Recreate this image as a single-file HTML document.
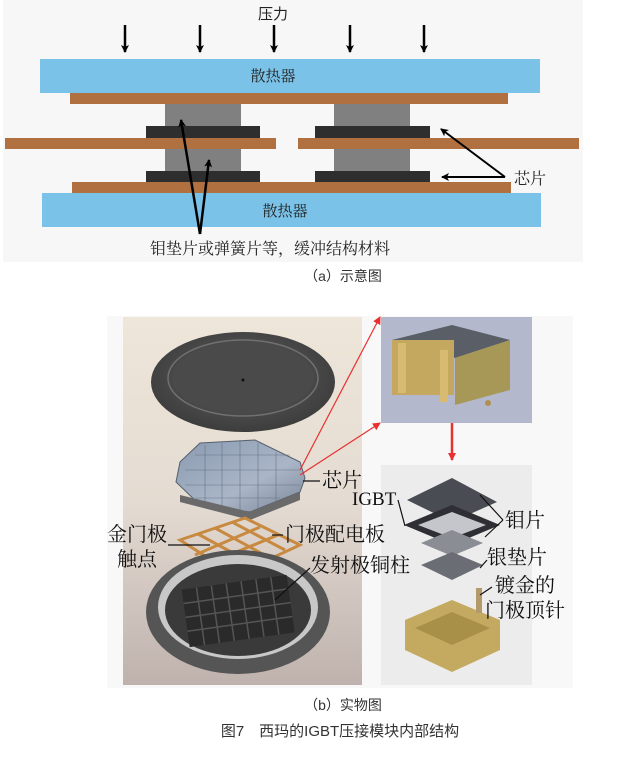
<!DOCTYPE html>
<html><head><meta charset="utf-8"><style>
html,body{margin:0;padding:0;background:#fff;}
svg{display:block;}
.cn{font-family:"Liberation Sans","Noto Sans CJK SC",sans-serif;}
.sf{font-family:"Liberation Serif","Noto Serif CJK SC",serif;}
</style></head><body>
<svg width="633" height="767" viewBox="0 0 633 767" xmlns="http://www.w3.org/2000/svg">
<defs>
<marker id="ah" markerWidth="8" markerHeight="8" refX="7" refY="4" orient="auto" markerUnits="userSpaceOnUse"><path d="M0,0 L8,4 L0,8 L2,4 z" fill="#000"/></marker>
<marker id="ar" markerWidth="8" markerHeight="8" refX="7" refY="4" orient="auto" markerUnits="userSpaceOnUse"><path d="M0,0 L8,4 L0,8 z" fill="#e83030"/></marker>
<linearGradient id="bg" x1="0" y1="0" x2="0" y2="1"><stop offset="0" stop-color="#efe6da"/><stop offset="0.5" stop-color="#e4dbd2"/><stop offset="1" stop-color="#bfb2ad"/></linearGradient>
<radialGradient id="disc" cx="0.5" cy="0.45" r="0.6"><stop offset="0" stop-color="#606060"/><stop offset="1" stop-color="#3a3a3a"/></radialGradient>
<linearGradient id="chip" x1="0" y1="0" x2="1" y2="1"><stop offset="0" stop-color="#8a9ab0"/><stop offset="0.6" stop-color="#aab6c8"/><stop offset="1" stop-color="#7a8698"/></linearGradient>
</defs>
<rect x="3" y="0" width="580" height="262" fill="#f7f7f7"/>
<text x="273" y="19" class="cn" font-size="15" text-anchor="middle" fill="#222">压力</text>
<g stroke="#000" stroke-width="2.5">
<line x1="125" y1="25" x2="125" y2="52" marker-end="url(#ah)"/>
<line x1="200" y1="25" x2="200" y2="52" marker-end="url(#ah)"/>
<line x1="274" y1="25" x2="274" y2="52" marker-end="url(#ah)"/>
<line x1="350" y1="25" x2="350" y2="52" marker-end="url(#ah)"/>
<line x1="424" y1="25" x2="424" y2="52" marker-end="url(#ah)"/>
</g>
<rect x="40" y="59" width="500" height="34" fill="#7ac2e8"/>
<text x="273" y="81" class="sf" font-size="15" text-anchor="middle" fill="#222">散热器</text>
<rect x="70" y="93" width="438" height="11" fill="#b07040"/>
<rect x="165" y="104" width="76" height="23" fill="#808080"/>
<rect x="334" y="104" width="76" height="23" fill="#808080"/>
<rect x="146" y="126" width="114" height="12" fill="#2e2e2e"/>
<rect x="315" y="126" width="115" height="12" fill="#2e2e2e"/>
<rect x="5" y="138" width="271" height="11" fill="#b07040"/>
<rect x="298" y="138" width="281" height="11" fill="#b07040"/>
<rect x="165" y="149" width="76" height="22" fill="#808080"/>
<rect x="334" y="149" width="76" height="22" fill="#808080"/>
<rect x="146" y="171" width="114" height="11" fill="#2e2e2e"/>
<rect x="315" y="171" width="115" height="11" fill="#2e2e2e"/>
<rect x="72" y="182" width="439" height="11" fill="#b07040"/>
<rect x="42" y="193" width="499" height="34" fill="#7ac2e8"/>
<text x="285" y="216" class="sf" font-size="15" text-anchor="middle" fill="#222">散热器</text>
<g stroke="#000" stroke-width="2.5" fill="none">
<line x1="200" y1="234" x2="181" y2="120" marker-end="url(#ah)"/>
<line x1="200" y1="234" x2="209" y2="160" marker-end="url(#ah)"/>
<line x1="505" y1="177" x2="441" y2="129" stroke-width="2" marker-end="url(#ah)"/>
<line x1="505" y1="177" x2="442" y2="177" stroke-width="2" marker-end="url(#ah)"/>
</g>
<text x="514" y="184" class="sf" font-size="16" fill="#222">芯片</text>
<text x="150" y="254" class="sf" font-size="16" fill="#222">钼垫片或弹簧片等，缓冲结构材料</text>
<text x="343" y="281" class="cn" font-size="14" text-anchor="middle" fill="#333">（a）示意图</text>
<rect x="107" y="316" width="466" height="372" fill="#f8f8f8"/>
<rect x="123" y="317" width="239" height="368" fill="url(#bg)"/>
<rect x="381" y="317" width="151" height="106" fill="#b4b8cc"/>
<rect x="381" y="465" width="151" height="220" fill="#ececec"/>
<ellipse cx="243" cy="382" rx="92" ry="50" fill="url(#disc)"/>
<ellipse cx="243" cy="378" rx="75" ry="38" fill="none" stroke="#707070" stroke-width="1.5"/>
<ellipse cx="243" cy="378" rx="71" ry="35" fill="#4a4a4a"/>
<circle cx="243" cy="380" r="1.5" fill="#111"/>
<path d="M200,443 L255,440 L300,462 L305,478 L300,492 L250,512 L200,505 L176,482 L180,462 Z" fill="url(#chip)" stroke="#55606e" stroke-width="1"/>
<g stroke="#5a6678" stroke-width="0.6" opacity="0.8">
<line x1="195" y1="455" x2="290" y2="455"/><line x1="185" y1="470" x2="300" y2="470"/><line x1="185" y1="485" x2="300" y2="485"/><line x1="195" y1="498" x2="280" y2="498"/>
<line x1="205" y1="445" x2="205" y2="505"/><line x1="222" y1="443" x2="222" y2="508"/><line x1="240" y1="441" x2="240" y2="510"/><line x1="258" y1="443" x2="258" y2="510"/><line x1="276" y1="452" x2="276" y2="502"/>
</g>
<path d="M180,495 L250,512 L300,492 L300,500 L250,520 L180,502 Z" fill="#6a6a6a"/>
<g stroke="#c88a40" stroke-width="3" fill="none">
<path d="M180,540 L245,518 L300,545 L235,575 Z"/>
<line x1="198" y1="534" x2="255" y2="565"/><line x1="215" y1="528" x2="270" y2="558"/><line x1="232" y1="522" x2="285" y2="550"/>
<line x1="195" y1="555" x2="260" y2="527"/><line x1="212" y1="562" x2="278" y2="535"/>
</g>
<ellipse cx="238" cy="612" rx="92" ry="62" fill="#555"/>
<ellipse cx="238" cy="607" rx="80" ry="52" fill="#c8c8c8"/>
<ellipse cx="238" cy="610" rx="73" ry="46" fill="#3a3a3a"/>
<g fill="#262626" transform="rotate(-8 238 610)">
<rect x="185" y="582" width="106" height="58" fill="#2a2a2a"/>
<g stroke="#555" stroke-width="1.5">
<line x1="185" y1="596" x2="291" y2="596"/><line x1="185" y1="610" x2="291" y2="610"/><line x1="185" y1="624" x2="291" y2="624"/>
<line x1="200" y1="582" x2="200" y2="640"/><line x1="215" y1="582" x2="215" y2="640"/><line x1="230" y1="582" x2="230" y2="640"/><line x1="245" y1="582" x2="245" y2="640"/><line x1="260" y1="582" x2="260" y2="640"/><line x1="275" y1="582" x2="275" y2="640"/>
</g>
</g>
<g stroke="#e83030" stroke-width="1.2">
<line x1="300" y1="470" x2="380" y2="317" marker-end="url(#ar)"/>
<line x1="300" y1="475" x2="380" y2="423" marker-end="url(#ar)"/>
</g>
<line x1="452" y1="423" x2="452" y2="460" stroke="#e83030" stroke-width="2.5" marker-end="url(#ar)"/>
<path d="M392,340 L452,325 L510,340 L455,358 Z" fill="#5a5e66"/>
<rect x="392" y="340" width="62" height="55" fill="#c4a860"/>
<path d="M455,358 L510,340 L510,390 L455,405 Z" fill="#a89858"/>
<rect x="398" y="343" width="8" height="50" fill="#d8bb70"/>
<rect x="440" y="350" width="8" height="52" fill="#d8bb70"/>
<circle cx="488" cy="403" r="3" fill="#b09050"/>
<path d="M452,478 L497,502 L452,522 L407,500 Z" fill="#4a4c54"/>
<path d="M452,505 L500,525 L452,545 L404,525 Z" fill="#2e2e34"/>
<path d="M452,512 L486,525 L452,538 L418,525 Z" fill="#c4c6cc"/>
<path d="M452,530 L483,543 L452,556 L421,543 Z" fill="#8a8e94"/>
<path d="M452,552 L483,565 L452,580 L421,565 Z" fill="#6a6e74"/>
<path d="M405,620 L452,600 L500,620 L500,650 L452,672 L405,650 Z" fill="#c4aa60"/>
<path d="M415,628 L452,612 L490,628 L452,645 Z" fill="#a89048"/>
<rect x="476" y="588" width="6" height="25" fill="#b49a6a"/>
<g stroke="#111" stroke-width="1.2" fill="none">
<line x1="320" y1="481" x2="303" y2="481"/>
<line x1="168" y1="545" x2="210" y2="545"/>
<line x1="283" y1="535" x2="272" y2="535"/>
<line x1="310" y1="568" x2="275" y2="600"/>
<line x1="398" y1="500" x2="405" y2="526"/>
<line x1="503" y1="520" x2="480" y2="495"/>
<line x1="503" y1="520" x2="485" y2="537"/>
<line x1="487" y1="560" x2="480" y2="568"/>
<line x1="492" y1="587" x2="480" y2="595"/>
</g>
<g class="sf" font-size="20" fill="#111">
<text x="322" y="487">芯片</text>
<text x="107" y="541">金门极</text>
<text x="117" y="566">触点</text>
<text x="285" y="541">门极配电板</text>
<text x="310" y="572">发射极铜柱</text>
<text x="352" y="505" font-size="19">IGBT</text>
<text x="505" y="527">钼片</text>
<text x="487" y="564">银垫片</text>
<text x="495" y="592">镀金的</text>
<text x="485" y="617">门极顶针</text>
</g>
<text x="343" y="710" class="cn" font-size="14" text-anchor="middle" fill="#333">（b）实物图</text>
<text x="340" y="736" class="cn" font-size="15" text-anchor="middle" fill="#333">图7　西玛的IGBT压接模块内部结构</text>
</svg>
</body></html>
